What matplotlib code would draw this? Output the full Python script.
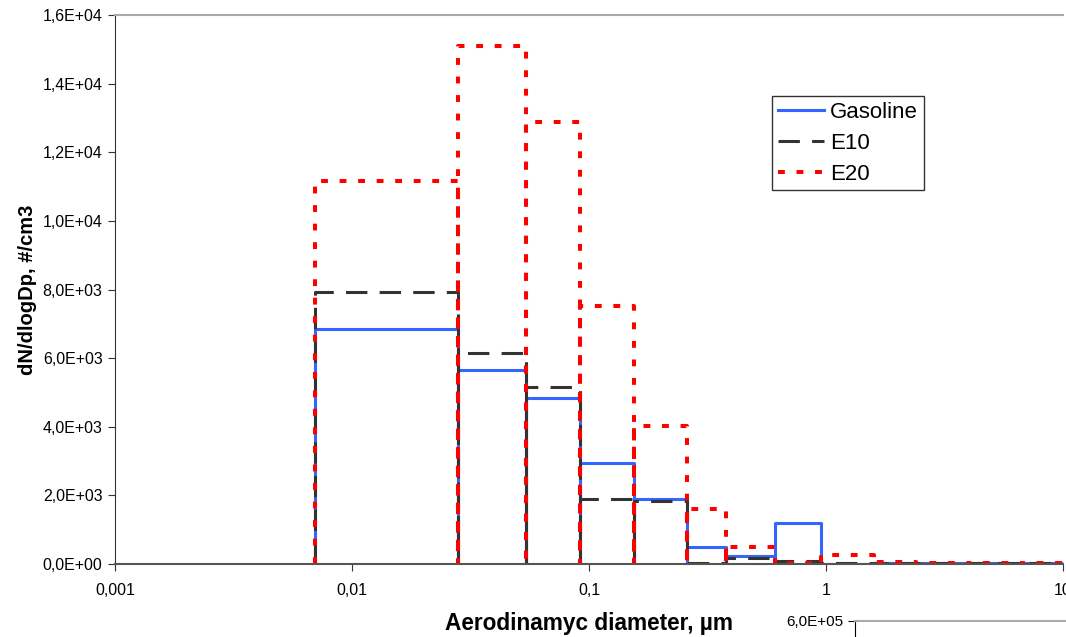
import numpy as np
import matplotlib

matplotlib.use("Agg")
import matplotlib.pyplot as plt
from matplotlib.ticker import FixedLocator, FuncFormatter, NullLocator

plt.rcParams["font.family"] = ["Liberation Sans", "DejaVu Sans"]

# bin edges (aerodynamic diameter, um) and dN/dlogDp per bin
edges = [0.007, 0.028, 0.054, 0.092, 0.155, 0.26, 0.38, 0.61, 0.95, 1.6, 2.4, 4.0, 6.7, 10.0]
gasoline = [6860, 5640, 4840, 2950, 1880, 505, 222, 1200, 10, 40, 35, 30, 25]
e10 = [7920, 6140, 5150, 1890, 1830, 15, 170, 90, 15, 30, 30, 25, 20]
e20 = [11150, 15100, 12870, 7520, 4010, 1590, 505, 15, 275, 45, 40, 35, 30]

series = [
    ("Gasoline", gasoline, dict(color="#3366ff", lw=2.2, ls="-")),
    ("E10", e10, dict(color="#333333", lw=2.2, ls=(0, (7, 4)))),
    ("E20", e20, dict(color="#ff0000", lw=2.9, ls=(0, (1.7, 2.9)))),
]


def outline(edges, vals):
    # Excel-like bar outline: every edge drops to zero
    xs, ys = [], []
    for i, v in enumerate(vals):
        xs += [edges[i], edges[i], edges[i + 1], edges[i + 1]]
        ys += [0, v, v, 0]
    return xs, ys


fig = plt.figure(figsize=(10.66, 6.37), dpi=100)
ax = fig.add_axes([115 / 1066, 73 / 637, 948 / 1066, 549 / 637])

for name, vals, style in series:
    xs, ys = outline(edges, vals)
    ax.plot(xs, ys, label=name, **style)

ax.set_xscale("log")
ax.set_xlim(0.001, 10)
ax.set_ylim(0, 16000)
ax.xaxis.set_major_locator(FixedLocator([0.001, 0.01, 0.1, 1, 10]))
ax.xaxis.set_minor_locator(NullLocator())
ax.xaxis.set_major_formatter(FuncFormatter(lambda v, p: f"{v:g}".replace(".", ",")))
ax.set_yticks(np.arange(0, 16001, 2000))


def sci(v, p):
    if v == 0:
        return "0,0E+00"
    e = int(np.floor(np.log10(v)))
    return f"{v / 10**e:.1f}".replace(".", ",") + f"E+{e:02d}"


ax.yaxis.set_major_formatter(FuncFormatter(sci))
ax.tick_params(axis="both", labelsize=11.5, direction="out", length=5, color="#333333")
ax.tick_params(axis="x", pad=9)
ax.tick_params(axis="y", pad=4)
ax.spines["right"].set_visible(False)
ax.spines["top"].set_color("#aaaaaa")
ax.spines["top"].set_linewidth(1.5)
ax.spines["left"].set_color("#333333")
ax.spines["bottom"].set_color("#555555")
ax.spines["bottom"].set_linewidth(1.5)

ax.set_xlabel("Aerodinamyc diameter, µm", fontsize=16.3, fontweight="bold")
ax.set_ylabel("dN/dlogDp, #/cm3", fontsize=14.5, fontweight="bold")
ax.xaxis.set_label_coords(0.5, -0.087)
ax.yaxis.set_label_coords(-0.082, 0.5)

leg = ax.legend(loc="upper left", bbox_to_anchor=(657 / 948, 468 / 549), fontsize=16,
                frameon=True, fancybox=False, handlelength=2.1, handletextpad=0.27,
                borderpad=0.25, labelspacing=0.45, borderaxespad=0)
leg.get_frame().set_edgecolor("black")
leg.get_frame().set_linewidth(1.0)

# corner of the next chart peeking in at the bottom right
ax2 = fig.add_axes([855 / 1066, 0, 211 / 1066, 16 / 637])
ax2.set_xlim(0, 1)
ax2.set_ylim(5.8e5, 6e5)
ax2.set_yticks([6e5])
ax2.set_yticklabels(["6,0E+05"])
ax2.set_xticks([])
ax2.tick_params(axis="y", labelsize=11, length=5, direction="out")
ax2.spines["right"].set_visible(False)
ax2.spines["bottom"].set_visible(False)
ax2.spines["top"].set_color("#aaaaaa")
ax2.spines["top"].set_linewidth(1.5)

fig.savefig("out.png", dpi=100)
